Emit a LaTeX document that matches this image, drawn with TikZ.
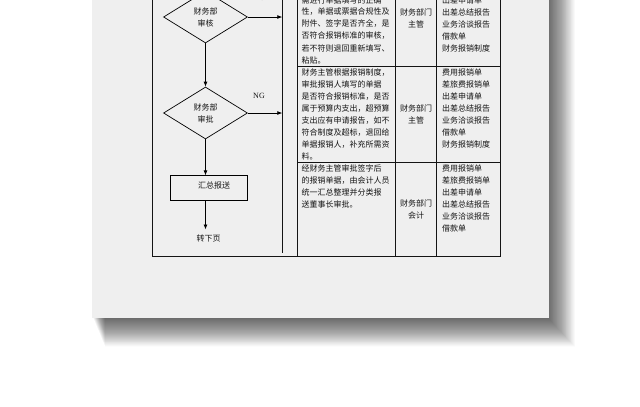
\documentclass[tikz,border=0pt]{standalone}
\usepackage{fontspec}
\setmainfont{Liberation Serif}
\newfontfamily\cjk{Noto Sans CJK SC}
\usetikzlibrary{arrows.meta,shapes.geometric}
\XeTeXlinebreaklocale "zh"
\XeTeXlinebreakskip=0pt plus 3pt
\definecolor{paper}{RGB}{239,239,239}
\definecolor{ink}{RGB}{20,20,20}
\newcommand\jl[1]{\hbox to 90pt{#1}}
\begin{document}
\begin{tikzpicture}[x=1pt,y=-1pt,
  txt/.style={font=\cjk\fontsize{8}{10}\selectfont, text=ink, inner sep=0pt},
  ngtxt/.style={font=\fontsize{8}{10}\selectfont, text=ink, inner sep=0pt},
  frame/.style={draw=ink, line width=0.8pt},
  arr/.style={draw=black, line width=0.8pt, -{Latex[length=5pt,width=4pt]}},
  dia/.style={diamond, draw=black, line width=0.7pt, minimum width=84pt, minimum height=52pt, inner sep=0pt, align=center, font=\cjk\fontsize{8}{12}\selectfont, text=ink},
  boxst/.style={rectangle, draw=black, line width=0.8pt, minimum width=77pt, minimum height=24.5pt, inner sep=0pt}
]
\useasboundingbox (0,0) rectangle (640,407);
\fill[white] (0,0) rectangle (640,407);
% shadow
\foreach \i in {1,...,60}{
  \fill[black, opacity=0.0105] (93+\i*0.2, -10) rectangle (548+\i*0.45, 318+\i*0.48);
}
% paper
\fill[paper] (92,-10) rectangle (548.5,318);
% table frame
\draw[frame] (152.5,-10) -- (152.5,256.7) -- (500.7,256.7) -- (500.7,-10);
\draw[frame] (282.3,-10) -- (282.3,253);
\draw[frame] (297,-10) -- (297,256.7);
\draw[frame] (395.3,-10) -- (395.3,256.7);
\draw[frame] (436.7,-10) -- (436.7,256.7);
\draw[frame] (297,66) -- (500.7,66);
\draw[frame] (297,162.7) -- (500.7,162.7);
% flowchart
\node[dia] (d1) at (205.5,17) {财务部\\审核};
\node[dia] (d2) at (205.5,113) {财务部\\审批};
\node[boxst] (b1) at (208.8,188) {};
\node[txt] (b1t) at (214,185) {汇总报送};
\coordinate (endp) at (205.5,229.5);
\node[txt] (next) at (208.7,238.7) {转下页};
\coordinate (c1) at (282.3,17);
\coordinate (c2) at (282.3,113);
\draw[arr] (d1.east) -- (c1);
\draw[arr] (d2.east) -- (c2);
\draw[arr] (d1.south) -- (d2.north);
\draw[arr] (d2.south) -- (d2.south |- b1.north);
\draw[arr] (d2.south |- b1.south) -- (endp);
\node[ngtxt] (ng1) at (259,-2) {NG};
\node[ngtxt] (ng2) at (259,95.7) {NG};
% column 2 text
\foreach \t [count=\i from 0] in {需进行单据填写的正确,性，单据或票据合规性及,附件、签字是否齐全，是,否符合报销标准的审核，,若不符则退回重新填写、}
  \node[txt, anchor=west] (ra\i) at (301.5, 0+12*\i) {\jl{\t}};
\node[txt, anchor=west] (ra5) at (301.5,60.3) {粘贴。};
\foreach \t [count=\i from 0] in {财务主管根据报销制度，,审批报销人填写的单据,是否符合报销标准，是否,属于预算内支出，超预算,支出应有申请报告，如不,符合制度及超标，退回给,单据报销人，补充所需资}
  \node[txt, anchor=west] (rb\i) at (301.5, 72.5+12.02*\i) {\jl{\t}};
\node[txt, anchor=west] (rb7) at (301.5,156.4) {料。};
\foreach \t [count=\i from 0] in {经财务主管审批签字后,的报销单据，由会计人员,统一汇总整理并分类报}
  \node[txt, anchor=west] (rc\i) at (301.5, 168.8+12*\i) {\jl{\t}};
\node[txt, anchor=west] (rc3) at (301.5,204.8) {送董事长审批。};
% column 3
\node[txt] (da1) at (416,12) {财务部门};
\node[txt] (da2) at (416,24) {主管};
\node[txt] (db1) at (416,108.5) {财务部门};
\node[txt] (db2) at (416,120.5) {主管};
\node[txt] (dc1) at (416,203) {财务部门};
\node[txt] (dc2) at (416,215) {会计};
% column 4
\foreach \t [count=\i from 0] in {出差申请单,出差总结报告,业务洽谈报告,借款单,财务报销制度}
  \node[txt, anchor=west] (ea\i) at (442, 0+12*\i) {\t};
\foreach \t [count=\i from 0] in {费用报销单,差旅费报销单,出差申请单,出差总结报告,业务洽谈报告,借款单,财务报销制度}
  \node[txt, anchor=west] (eb\i) at (442, 72.3+12*\i) {\t};
\foreach \t [count=\i from 0] in {费用报销单,差旅费报销单,出差申请单,出差总结报告,业务洽谈报告,借款单}
  \node[txt, anchor=west] (ec\i) at (442, 168.3+12*\i) {\t};
\end{tikzpicture}
\end{document}
